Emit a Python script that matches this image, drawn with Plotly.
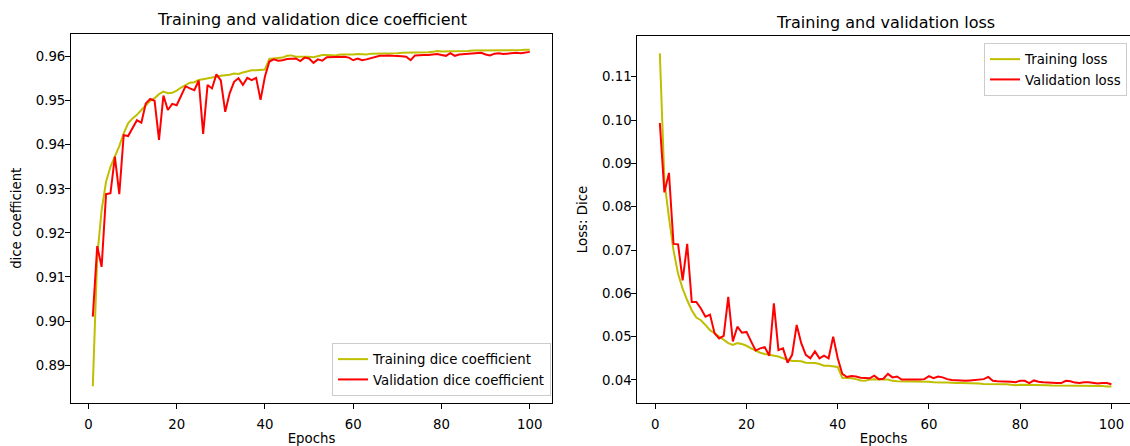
import plotly.graph_objects as go

epochs = list(range(1, 101))

train_dice = [
    0.8852, 0.9146, 0.9252, 0.9316, 0.9350, 0.9373, 0.9397, 0.9426, 0.9449, 0.9460,
    0.9468, 0.9479, 0.9490, 0.9500, 0.9506, 0.9515, 0.9521, 0.9517, 0.9518, 0.9523,
    0.9530, 0.9536, 0.9541, 0.9542, 0.9547, 0.9549, 0.9551, 0.9553, 0.9556, 0.9557,
    0.9558, 0.9559, 0.9562, 0.9561, 0.9564, 0.9566, 0.9569, 0.9569, 0.9570, 0.9571,
    0.9595, 0.9596, 0.9597, 0.9598, 0.9602, 0.9603, 0.9600, 0.9600, 0.9601, 0.9600,
    0.9599, 0.9602, 0.9604, 0.9604, 0.9604, 0.9603, 0.9605, 0.9605, 0.9604, 0.9605,
    0.9606, 0.9606, 0.9605, 0.9607, 0.9607, 0.9608, 0.9608, 0.9607, 0.9608, 0.9608,
    0.9609, 0.9609, 0.9610, 0.9610, 0.9609, 0.9610, 0.9610, 0.9611, 0.9613, 0.9612,
    0.9612, 0.9613, 0.9612, 0.9613, 0.9613, 0.9613, 0.9614, 0.9614, 0.9614, 0.9614,
    0.9615, 0.9615, 0.9615, 0.9614, 0.9615, 0.9615, 0.9615, 0.9615, 0.9616, 0.9616,
]

val_dice = [
    0.9010, 0.9170, 0.9123, 0.9288, 0.9290, 0.9373, 0.9288, 0.9422, 0.9420, 0.9437,
    0.9456, 0.9450, 0.9494, 0.9504, 0.9500, 0.9411, 0.9512, 0.9479, 0.9493, 0.9490,
    0.9513, 0.9533, 0.9528, 0.9524, 0.9546, 0.9425, 0.9536, 0.9528, 0.9560, 0.9546,
    0.9475, 0.9517, 0.9543, 0.9551, 0.9536, 0.9552, 0.9547, 0.9552, 0.9502, 0.9555,
    0.9589, 0.9594, 0.9591, 0.9592, 0.9595, 0.9595, 0.9596, 0.9590, 0.9598, 0.9596,
    0.9586, 0.9594, 0.9591, 0.9599, 0.9599, 0.9600, 0.9600, 0.9600, 0.9598, 0.9592,
    0.9596, 0.9592, 0.9594, 0.9597, 0.9600, 0.9602, 0.9602, 0.9603, 0.9602, 0.9602,
    0.9601, 0.9600, 0.9592, 0.9603, 0.9604, 0.9604, 0.9604, 0.9605, 0.9606, 0.9604,
    0.9602, 0.9608, 0.9602, 0.9605, 0.9606, 0.9607, 0.9608, 0.9608, 0.9609, 0.9605,
    0.9603, 0.9607, 0.9608, 0.9606, 0.9607, 0.9609, 0.9609, 0.9608, 0.9609, 0.9611,
]

train_loss = [
    0.1154, 0.0859, 0.0775, 0.0699, 0.0645, 0.0611, 0.0584, 0.0561, 0.0544, 0.0538,
    0.0527, 0.0515, 0.0508, 0.0500, 0.0492, 0.0485, 0.0481, 0.0485, 0.0483, 0.0479,
    0.0473, 0.0468, 0.0463, 0.0460, 0.0458, 0.0456, 0.0454, 0.0450, 0.0447, 0.0444,
    0.0444, 0.0443, 0.0440, 0.0440, 0.0439, 0.0437, 0.0433, 0.0433, 0.0431, 0.0430,
    0.0405, 0.0405, 0.0404, 0.0402, 0.0399, 0.0398, 0.0401, 0.0402, 0.0401, 0.0401,
    0.0401, 0.0398, 0.0397, 0.0397, 0.0397, 0.0397, 0.0396, 0.0396, 0.0396, 0.0396,
    0.0395, 0.0394, 0.0394, 0.0394, 0.0393, 0.0393, 0.0393, 0.0393, 0.0392, 0.0392,
    0.0392, 0.0391, 0.0391, 0.0391, 0.0391, 0.0390, 0.0390, 0.0389, 0.0388, 0.0389,
    0.0389, 0.0388, 0.0389, 0.0388, 0.0388, 0.0388, 0.0387, 0.0387, 0.0387, 0.0387,
    0.0386, 0.0386, 0.0386, 0.0387, 0.0386, 0.0386, 0.0386, 0.0386, 0.0385, 0.0385,
]

val_loss = [
    0.0993, 0.0833, 0.0878, 0.0714, 0.0713, 0.0630, 0.0714, 0.0580, 0.0580, 0.0565,
    0.0546, 0.0551, 0.0508, 0.0496, 0.0502, 0.0592, 0.0489, 0.0523, 0.0509, 0.0511,
    0.0489, 0.0468, 0.0473, 0.0476, 0.0456, 0.0577, 0.0469, 0.0473, 0.0440, 0.0458,
    0.0527, 0.0485, 0.0458, 0.0450, 0.0466, 0.0450, 0.0456, 0.0450, 0.0500, 0.0450,
    0.0414, 0.0407, 0.0409, 0.0408, 0.0405, 0.0405, 0.0404, 0.0410, 0.0402, 0.0403,
    0.0414, 0.0406, 0.0408, 0.0401, 0.0401, 0.0400, 0.0400, 0.0401, 0.0402, 0.0409,
    0.0404, 0.0408, 0.0406, 0.0402, 0.0400, 0.0399, 0.0399, 0.0398, 0.0399, 0.0400,
    0.0400, 0.0402, 0.0407, 0.0398, 0.0397, 0.0397, 0.0397, 0.0396, 0.0395, 0.0398,
    0.0398, 0.0393, 0.0399, 0.0396, 0.0395, 0.0394, 0.0394, 0.0393, 0.0393, 0.0398,
    0.0397, 0.0394, 0.0393, 0.0395, 0.0395, 0.0393, 0.0392, 0.0393, 0.0393, 0.0390,
]

FONT = "DejaVu Sans"
TICK = 13.3
W, H = 1130, 446
YELLOW = "#bfbf00"
RED = "#ff0000"

fig = go.Figure()
fig.add_trace(go.Scatter(x=epochs, y=train_dice, mode="lines", name="Training dice coefficient",
                         line=dict(color=YELLOW, width=2), xaxis="x", yaxis="y",
                         legend="legend"))
fig.add_trace(go.Scatter(x=epochs, y=val_dice, mode="lines", name="Validation dice coefficient",
                         line=dict(color=RED, width=2), xaxis="x", yaxis="y",
                         legend="legend"))
fig.add_trace(go.Scatter(x=epochs, y=train_loss, mode="lines", name="Training loss",
                         line=dict(color=YELLOW, width=2), xaxis="x2", yaxis="y2",
                         legend="legend2"))
fig.add_trace(go.Scatter(x=epochs, y=val_loss, mode="lines", name="Validation loss",
                         line=dict(color=RED, width=2), xaxis="x2", yaxis="y2",
                         legend="legend2"))

def px_x(p):
    return p / W

def px_y(p):
    return 1 - p / H

axis_common = dict(showline=True, linecolor="black", linewidth=1, ticks="outside",
                   ticklen=5, tickwidth=1, tickcolor="black", showgrid=False,
                   zeroline=False, tickfont=dict(family=FONT, size=TICK, color="black"))

fig.update_layout(
    width=W, height=H, margin=dict(l=0, r=0, t=0, b=0),
    paper_bgcolor="white", plot_bgcolor="white",
    font=dict(family=FONT, size=TICK, color="black"),
    xaxis=dict(domain=[px_x(71), px_x(552)], range=[-3.94, 105.03], anchor="y",
               tick0=0, dtick=20, mirror=True, ticklabelstandoff=4,
               title=dict(text="Epochs", standoff=2, font=dict(family=FONT, size=TICK)),
               **axis_common),
    yaxis=dict(domain=[px_y(403), px_y(33.5)], range=[0.88139, 0.96527], anchor="x",
               tick0=0.89, dtick=0.01, tickformat=".2f", mirror=True, ticklabelstandoff=-3,
               title=dict(text="dice coefficient", standoff=11, font=dict(family=FONT, size=TICK)),
               **axis_common),
    xaxis2=dict(domain=[px_x(637.3), 1.0], range=[-3.94, 104.07], anchor="y2",
                tick0=0, dtick=20, mirror=True, ticklabelstandoff=4,
                title=dict(text="Epochs", standoff=2, font=dict(family=FONT, size=TICK)),
                **axis_common),
    yaxis2=dict(domain=[px_y(403), px_y(36)], range=[0.03469, 0.11939], anchor="x2",
                tick0=0.04, dtick=0.01, tickformat=".2f", mirror=False, ticklabelstandoff=-3,
                title=dict(text="Loss: Dice", standoff=11, font=dict(family=FONT, size=TICK)),
                **axis_common),
    legend=dict(x=px_x(551), xanchor="right", y=px_y(396), yanchor="bottom",
                bgcolor="rgba(255,255,255,0.8)", bordercolor="#cccccc", borderwidth=1,
                font=dict(family=FONT, size=TICK, color="black"), itemwidth=30),
    legend2=dict(x=px_x(1127), xanchor="right", y=px_y(43), yanchor="top",
                 bgcolor="rgba(255,255,255,0.8)", bordercolor="#cccccc", borderwidth=1,
                 font=dict(family=FONT, size=TICK, color="black"), itemwidth=30),
    annotations=[
        dict(text="Training and validation dice coefficient", x=px_x(311.5), y=px_y(19),
             xref="paper", yref="paper", xanchor="center", yanchor="middle",
             showarrow=False, font=dict(family=FONT, size=16, color="black")),
        dict(text="Training and validation loss", x=px_x(885), y=px_y(22),
             xref="paper", yref="paper", xanchor="center", yanchor="middle",
             showarrow=False, font=dict(family=FONT, size=16, color="black")),
    ],
)

fig.write_html("out.html")
